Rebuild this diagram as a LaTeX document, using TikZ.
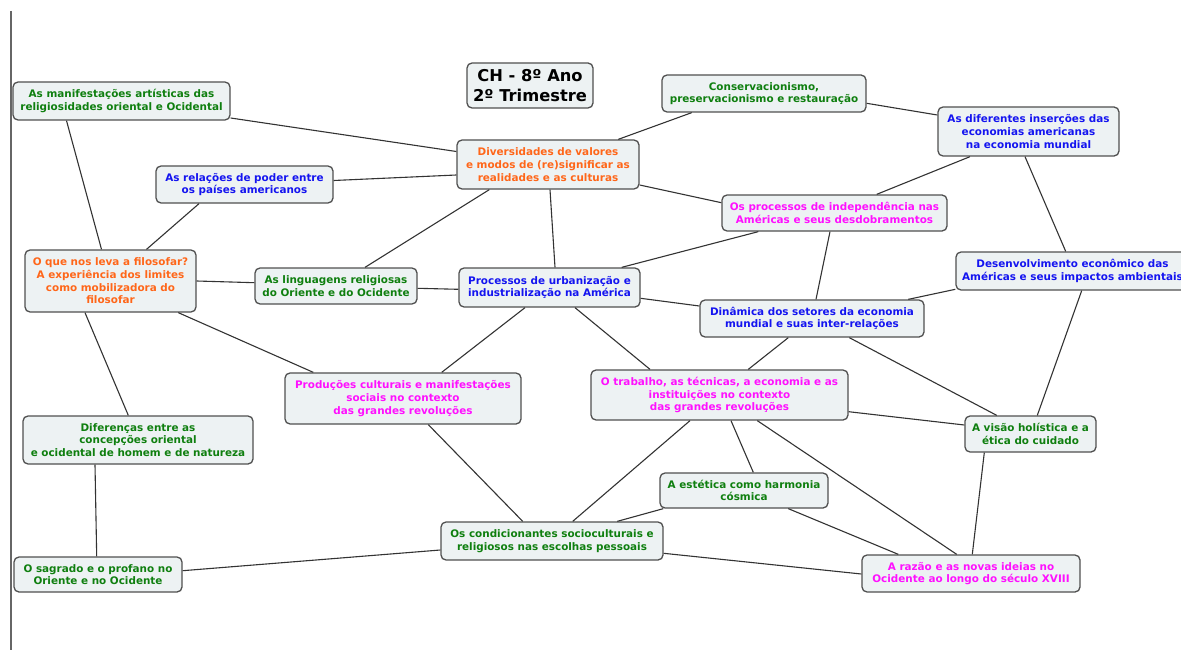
\documentclass[tikz,border=0pt]{standalone}
\usepackage{fontspec}
\setmainfont{DejaVu Sans}
\definecolor{cOr}{HTML}{FF6619}
\definecolor{cGr}{HTML}{0F7F0F}
\definecolor{cBl}{HTML}{1414F0}
\definecolor{cMg}{HTML}{FF10FF}
\definecolor{boxfill}{HTML}{EDF2F3}
\definecolor{boxline}{HTML}{505050}
\definecolor{linkc}{HTML}{333333}
\tikzset{
  box/.style={draw=boxline, line width=1.3pt, fill=boxfill, rounded corners=5pt,
    inner sep=0pt, align=center, font=\bfseries\fontsize{10.4}{12.7}\selectfont},
  link/.style={draw=linkc, line width=1.1pt},
}
\newcommand{\bx}[7]{% name, cx, cy, w, h, color, text
  \node[box, text=#6, minimum width=#4pt, minimum height=#5pt] (#1) at (#2,#3) {#7};}
\begin{document}
\begin{tikzpicture}[x=1pt,y=-1pt]
\useasboundingbox (0,0) rectangle (1181,650);
\clip (0,0) rectangle (1181,650);
\fill[white] (0,0) rectangle (1181,650);
\draw[draw=black!60, line width=1.5pt] (11,11) -- (11,650);

\node[box, text=black, minimum width=126pt, minimum height=45pt,
  font=\bfseries\fontsize{16.3}{19.5}\selectfont] (T) at (530,85.5) {CH - 8º Ano\\2º Trimestre};
\bx{MA}{121.5}{101}{217}{38}{cGr}{As manifestações artísticas das\\religiosidades oriental e Ocidental}
\bx{CO}{764}{93.5}{204}{37}{cGr}{Conservacionismo,\\preservacionismo e restauração}
\bx{IN}{1028.5}{131.5}{181}{49}{cBl}{As diferentes inserções das\\economias americanas\\na economia mundial}
\bx{DV}{548}{164.5}{182}{49}{cOr}{Diversidades de valores\\e modos de (re)significar as\\realidades e as culturas}
\bx{RP}{244.5}{184.5}{177}{37}{cBl}{As relações de poder entre\\os países americanos}
\bx{PI}{834.5}{213}{225}{36}{cMg}{Os processos de independência nas\\Américas e seus desdobramentos}
\bx{FI}{110.5}{281}{171}{62}{cOr}{O que nos leva a filosofar?\\A experiência dos limites\\como mobilizadora do\\filosofar}
\bx{LR}{336}{286}{162}{36}{cGr}{As linguagens religiosas\\do Oriente e do Ocidente}
\bx{PU}{549.5}{287.5}{181}{39}{cBl}{Processos de urbanização e\\industrialização na América}
\bx{DE}{1072.5}{271}{233}{38}{cBl}{Desenvolvimento econômico das\\Américas e seus impactos ambientais}
\bx{DI}{812}{318.5}{224}{37}{cBl}{Dinâmica dos setores da economia\\mundial e suas inter-relações}
\bx{PC}{403}{398.5}{236}{51}{cMg}{Produções culturais e manifestações\\sociais no contexto\\das grandes revoluções}
\bx{TR}{719.5}{395}{257}{50}{cMg}{O trabalho, as técnicas, a economia e as\\instituições no contexto\\das grandes revoluções}
\bx{DF}{138}{440}{230}{48}{cGr}{Diferenças entre as\\concepções oriental\\e ocidental de homem e de natureza}
\bx{VH}{1030.5}{434}{131}{36}{cGr}{A visão holística e a\\ética do cuidado}
\bx{ES}{744}{490.5}{168}{35}{cGr}{A estética como harmonia\\cósmica}
\bx{CC}{552}{541}{222}{38}{cGr}{Os condicionantes socioculturais e\\religiosos nas escolhas pessoais}
\bx{SP}{98}{574.5}{168}{35}{cGr}{O sagrado e o profano no\\Oriente e no Ocidente}
\bx{RZ}{971}{573.5}{218}{37}{cMg}{A razão e as novas ideias no\\Ocidente ao longo do século XVIII}

% connectors
\draw[link] ([yshift=-17pt]MA.east) -- ([yshift=13pt]DV.west);
\draw[link] ([xshift=-55pt]MA.south) -- ([xshift=-9pt]FI.north);
\draw[link] ([yshift=4pt]RP.east) -- ([yshift=-10.5pt]DV.west);
\draw[link] ([xshift=-45.5pt]RP.south) -- ([xshift=36pt]FI.north);
\draw[link] (FI.east) -- ([yshift=3.3pt]LR.west);
\draw[link] ([xshift=67.8pt]FI.south) -- ([xshift=-89.7pt]PC.north);
\draw[link] ([xshift=-25.5pt]FI.south) -- ([xshift=-9.7pt]DF.north);
\draw[link] ([xshift=-43pt]DF.south) -- ([xshift=-1.3pt]SP.north);
\draw[link] ([yshift=3.8pt]SP.east) -- ([yshift=-9pt]CC.west);
\draw[link] ([xshift=29pt]LR.north) -- ([xshift=-58.7pt]DV.south);
\draw[link] ([yshift=-2.3pt]LR.east) -- ([yshift=-1.8pt]PU.west);
\draw[link] ([xshift=2pt]DV.south) -- ([xshift=5.5pt]PU.north);
\draw[link] ([xshift=70.3pt]DV.north) -- ([xshift=-72.3pt]CO.south);
\draw[link] ([yshift=-20.5pt]DV.east) -- ([yshift=10.3pt]PI.west);
\draw[link] ([yshift=-9.8pt]CO.east) -- ([yshift=16.5pt]IN.west);
\draw[link] ([xshift=-58.5pt]IN.south) -- ([xshift=42.2pt]PI.north);
\draw[link] ([xshift=-3.5pt]IN.south) -- ([xshift=-6.8pt]DE.north);
\draw[link] ([xshift=-76.2pt]PI.south) -- ([xshift=72.2pt]PU.north);
\draw[link] ([xshift=-4.5pt]PI.south) -- ([xshift=4pt]DI.north);
\draw[link] ([yshift=-10.8pt]PU.east) -- ([yshift=12.5pt]DI.west);
\draw[link] ([yshift=-18.3pt]DE.west) -- ([xshift=96.3pt]DI.north);
\draw[link] ([xshift=9.2pt]DE.south) -- ([xshift=6.8pt]VH.north);
\draw[link] ([xshift=-24.5pt]PU.south) -- ([xshift=38.7pt]PC.north);
\draw[link] ([xshift=25.5pt]PU.south) -- ([xshift=-69.5pt]TR.north);
\draw[link] ([xshift=-23.7pt]DI.south) -- ([xshift=28.8pt]TR.north);
\draw[link] ([xshift=37.3pt]DI.south) -- ([xshift=-33.8pt]VH.north);
\draw[link] ([yshift=-16.7pt]TR.east) -- ([yshift=9pt]VH.west);
\draw[link] ([xshift=-29.5pt]TR.south) -- ([xshift=20.7pt]CC.north);
\draw[link] ([xshift=11.5pt]TR.south) -- ([xshift=9.3pt]ES.north);
\draw[link] ([xshift=37.8pt]TR.south) -- ([xshift=-14.3pt]RZ.north);
\draw[link] ([xshift=25.3pt]PC.south) -- ([xshift=-29.3pt]CC.north);
\draw[link] ([xshift=-80.7pt]ES.south) -- ([xshift=65.3pt]CC.north);
\draw[link] ([xshift=44.3pt]ES.south) -- ([xshift=-72.7pt]RZ.north);
\draw[link] ([yshift=-12.3pt]CC.east) -- ([yshift=-0.5pt]RZ.west);
\draw[link] ([xshift=-46.2pt]VH.south) -- ([xshift=1.3pt]RZ.north);
\end{tikzpicture}
\end{document}
